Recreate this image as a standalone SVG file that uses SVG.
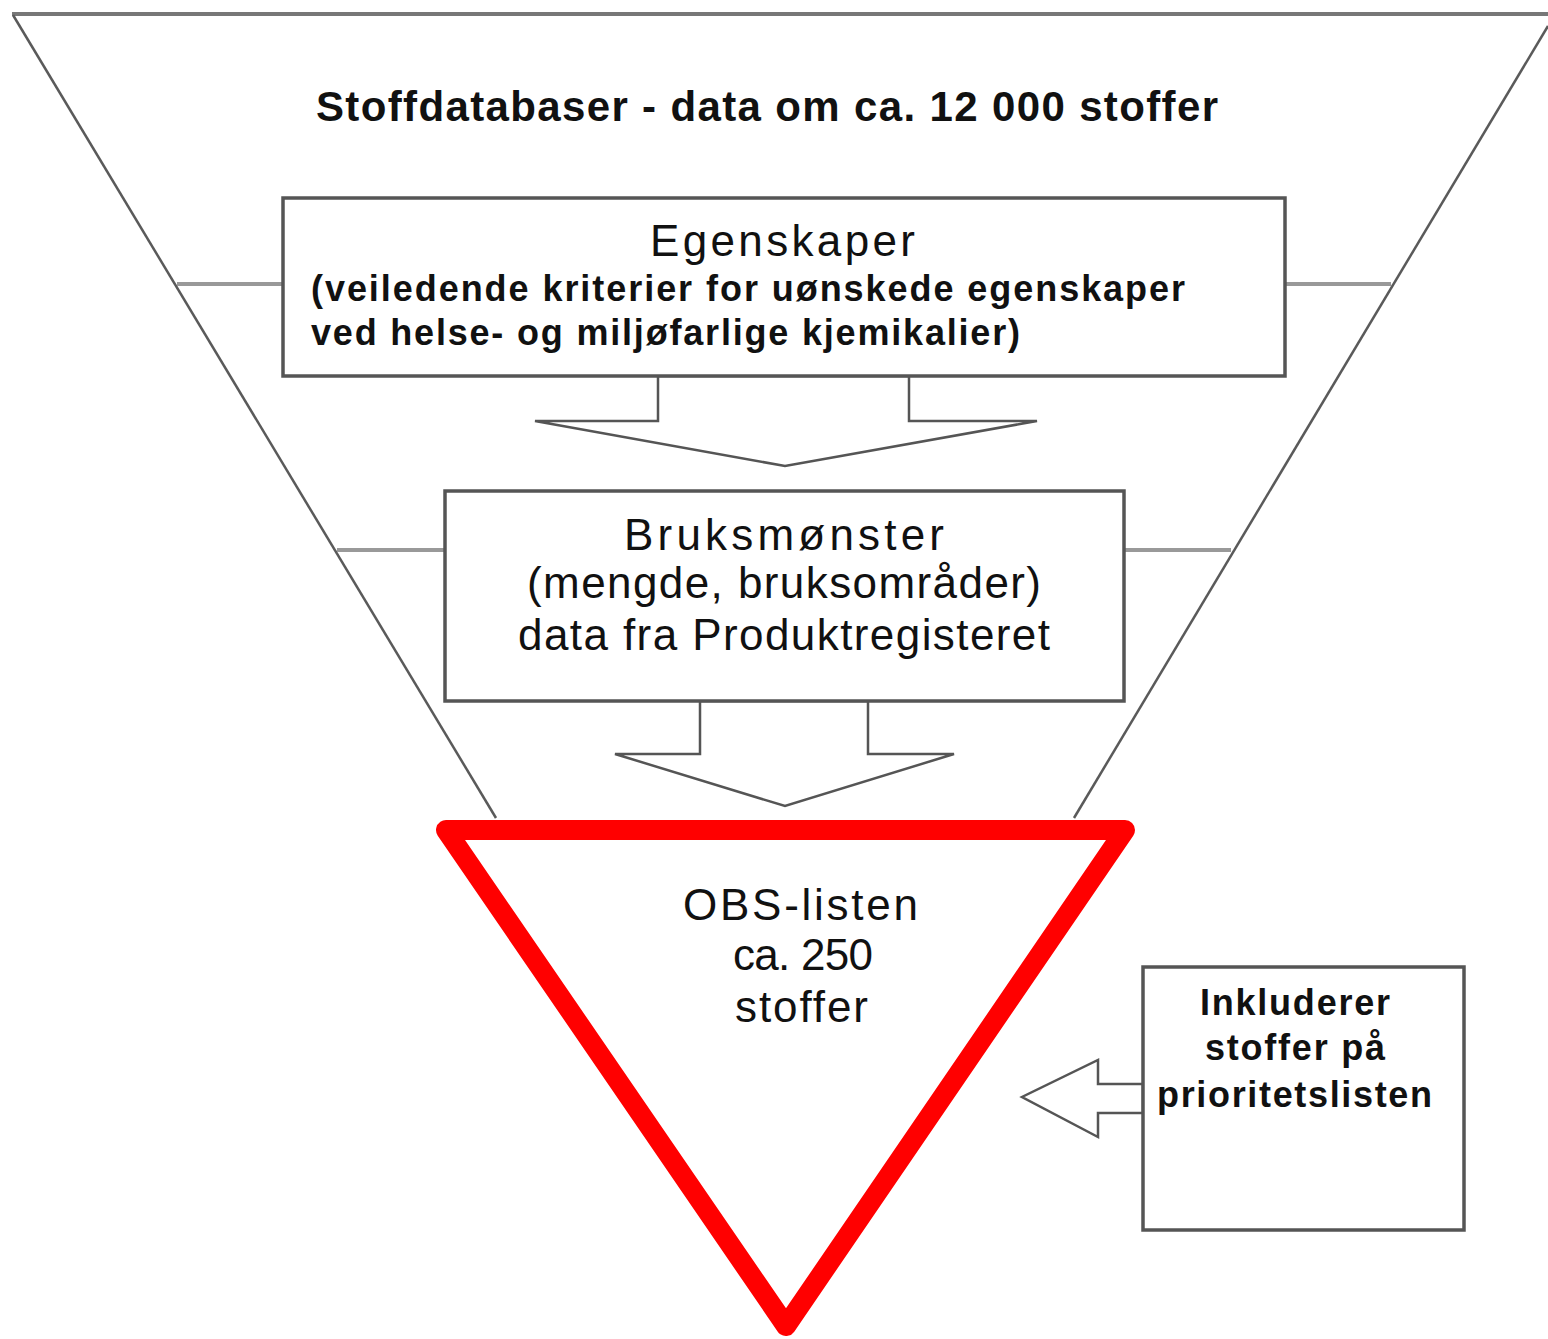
<svg xmlns="http://www.w3.org/2000/svg" width="1548" height="1339" viewBox="0 0 1548 1339">
<style>
.funnel{stroke:#5a5a5a;stroke-width:2.5;fill:none}
.top{stroke:#777;stroke-width:4;fill:none}
.box{fill:#fff;stroke:#555;stroke-width:3.5}
.side{stroke:#999;stroke-width:4;fill:none}
.arrow{fill:#fff;stroke:#555;stroke-width:2.5;stroke-linejoin:miter}
.t{font-family:"Liberation Sans",Arial,sans-serif;fill:#111}
.big{font-size:44px}
.bold{font-weight:bold;font-size:36px}
.title{font-weight:bold;font-size:42px}
</style>
<rect width="1548" height="1339" fill="#fff"/>
<g id="funnel">
<line class="top" x1="12" y1="14" x2="1548" y2="14"/>
<line class="funnel" x1="13" y1="15" x2="496" y2="818"/>
<line class="funnel" x1="1548" y1="26" x2="1074" y2="818"/>
<text class="t title" x="316" y="121" textLength="902">Stoffdatabaser - data om ca. 12 000 stoffer</text>
</g>
<g id="connectors">
<line class="side" x1="177" y1="284" x2="283" y2="284"/>
<line class="side" x1="1285" y1="284" x2="1391" y2="284"/>
<line class="side" x1="337" y1="550" x2="445" y2="550"/>
<line class="side" x1="1124" y1="550" x2="1231" y2="550"/>
<polygon class="arrow" points="658,376 658,421 535,421 785,466 1037,421 909,421 909,376"/>
<polygon class="arrow" points="700,701 700,754 615,754 785,806 954,754 868,754 868,701"/>
<polygon class="arrow" points="1143,1084 1098,1084 1098,1060 1022,1097 1098,1137 1098,1113 1143,1113"/>
</g>
<g id="egenskaper">
<rect class="box" x="283" y="198" width="1002" height="178"/>
<text class="t big" x="650" y="256" textLength="265">Egenskaper</text>
<text class="t bold" x="311" y="301" textLength="874">(veiledende kriterier for uønskede egenskaper</text>
<text class="t bold" x="311" y="345" textLength="709">ved helse- og miljøfarlige kjemikalier)</text>
</g>
<g id="bruksmonster">
<rect class="box" x="445" y="491" width="679" height="210"/>
<text class="t big" x="624" y="550" textLength="320">Bruksmønster</text>
<text class="t big" x="527" y="598" textLength="514">(mengde, bruksområder)</text>
<text class="t big" x="518" y="650" textLength="532">data fra Produktregisteret</text>
</g>
<g id="obs-listen">
<polygon points="446,830 1125,830 786,1326" fill="none" stroke="#ff0000" stroke-width="20" stroke-linejoin="round"/>
<text class="t big" x="683" y="920" textLength="235">OBS-listen</text>
<text class="t big" x="733" y="970" textLength="140">ca. 250</text>
<text class="t big" x="735" y="1022" textLength="133">stoffer</text>
</g>
<g id="prioritetslisten">
<rect class="box" x="1143" y="967" width="321" height="263"/>
<text class="t bold" x="1200" y="1015" textLength="190">Inkluderer</text>
<text class="t bold" x="1205" y="1060" textLength="180">stoffer på</text>
<text class="t bold" x="1157" y="1107" textLength="275">prioritetslisten</text>
</g>
</svg>
